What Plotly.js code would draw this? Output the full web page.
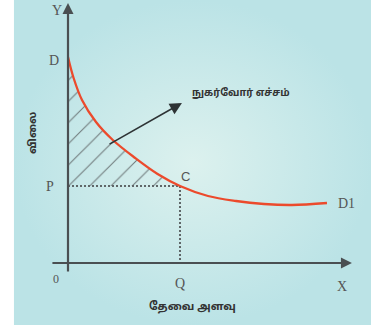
<!DOCTYPE html>
<html>
<head>
<meta charset="utf-8">
<script src="https://cdn.plot.ly/plotly-3.0.1.min.js"></script>
<style>
html,body{margin:0;padding:0;background:#fff;}
#chart{width:371px;height:329px;}
</style>
</head>
<body>
<div id="chart"></div>
<script>
// ================= DATA =================
// demand curve D -> D1 (quantity, price)
let curveX = [0, 0.2, 0.5, 1.0, 1.6, 2.4, 3.2, 4.0, 5.0, 6.0, 7.0, 8.0, 9.25];
let curveY = [10.3, 9.25, 8.15, 7.05, 6.15, 5.25, 4.45, 3.85, 3.35, 3.1, 2.95, 2.9, 3.0];

// market point C
let qValue = 4.0;
let pValue = 3.85;

// axis ends
let xAxisEnds = [-0.61, 10.14];
let yAxisEnds = [-0.5, 13.0];

// background panel
let bgX = [-1.93, 10.83, 10.83, -1.93];
let bgY = [-3.1, -3.1, 13.15, 13.15];

// arrow to the surplus label
let surplusArrowFrom = [1.43, 5.9];
let surplusArrowTo = [4.07, 8.0];

// texts
let surplusLabel = "நுகர்வோர் எச்சம்";
let priceLabel = "விலை";
let qtyLabel = "தேவை அளவு";

// ================= TRACES =================
let surplusX = curveX.filter(x => x <= qValue);
let surplusY = curveY.slice(0, surplusX.length);

let traces = [];

// background
traces.push({
x: bgX, y: bgY,
mode: "lines",
fill: "toself",
line: {width: 0},
fillcolor: "#c7e9ea",
fillgradient: {type: "radial", colorscale: [[0, "#dcf1ee"], [1, "#bbe3e6"]]},
hoverinfo: "skip"
});

// P line (base of the hatched area)
traces.push({
x: [0, qValue], y: [pValue, pValue],
mode: "lines",
line: {width: 0},
hoverinfo: "skip"
});

// hatched consumer surplus
traces.push({
x: surplusX, y: surplusY,
mode: "lines",
line: {width: 0, shape: "spline"},
fill: "tonexty",
fillcolor: "rgba(0,0,0,0)",
fillpattern: {shape: "/", size: 15, solidity: 0.07, fgcolor: "#6f7a7c", bgcolor: "rgba(0,0,0,0)"},
hoverinfo: "skip"
});

// dotted guides
traces.push({
x: [0, qValue, qValue], y: [pValue, pValue, 0],
mode: "lines",
line: {color: "#5f6668", width: 2, dash: "2px,2px"},
hoverinfo: "skip"
});

// demand curve
traces.push({
x: curveX, y: curveY,
mode: "lines",
line: {color: "#ec4a2c", width: 2.3, shape: "spline"},
hoverinfo: "skip"
});

// ================= LABELS =================
let serif = {family: "Liberation Serif", size: 14, color: "#555"};
let tamil = {family: "Noto Sans Tamil, Noto Sans, sans-serif", size: 11, color: "#333"};

function lbl(x, y, text, font, extra){
return Object.assign({x: x, y: y, text: text, showarrow: false, font: font}, extra || {});
}

let annotations = [
// axes
{x: xAxisEnds[1], y: 0, ax: xAxisEnds[0], ay: 0, axref: "x", ayref: "y",
text: "", showarrow: true, arrowhead: 2, arrowsize: 1, arrowwidth: 2.2, arrowcolor: "#4a4f52"},
{x: 0, y: yAxisEnds[1], ax: 0, ay: yAxisEnds[0], axref: "x", ayref: "y",
text: "", showarrow: true, arrowhead: 2, arrowsize: 1, arrowwidth: 2.2, arrowcolor: "#4a4f52"},
// surplus arrow
{x: surplusArrowTo[0], y: surplusArrowTo[1], ax: surplusArrowFrom[0], ay: surplusArrowFrom[1],
axref: "x", ayref: "y", text: "", showarrow: true, arrowhead: 2, arrowsize: 1.5, arrowwidth: 1.6, arrowcolor: "#2e3335"},

lbl(-0.39, 12.65, "Y", serif),
lbl(-0.5, 10.15, "D", serif),
lbl(-0.64, 3.85, "P", serif),
lbl(-0.43, -0.8, "0", Object.assign({}, serif, {size: 12})),
lbl(qValue, -1.0, "Q", serif),
lbl(9.79, -1.15, "X", serif),
lbl(4.2, 4.35, "C", Object.assign({}, serif, {family: "Liberation Sans", size: 13})),
lbl(9.95, 3.0, "D1", serif),
lbl(6.18, 8.5, "<b>" + surplusLabel + "</b>", Object.assign({}, tamil, {size: 10})),
lbl(-1.25, 6.5, "<b>" + priceLabel + "</b>", tamil, {textangle: -90}),
lbl(4.46, -2.2, "<b>" + qtyLabel + "</b>", tamil)
];

// ================= LAYOUT =================
let layout = {
width: 371, height: 329,
margin: {l: 0, r: 0, t: 0, b: 0},
paper_bgcolor: "#ffffff",
plot_bgcolor: "rgba(0,0,0,0)",
showlegend: false,
xaxis: {range: [-68/28, 303/28], visible: false, fixedrange: true},
yaxis: {range: [-66/20, 263/20], visible: false, fixedrange: true},
annotations: annotations
};

Plotly.newPlot("chart", traces, layout, {displayModeBar: false, staticPlot: true});
</script>
</body>
</html>
